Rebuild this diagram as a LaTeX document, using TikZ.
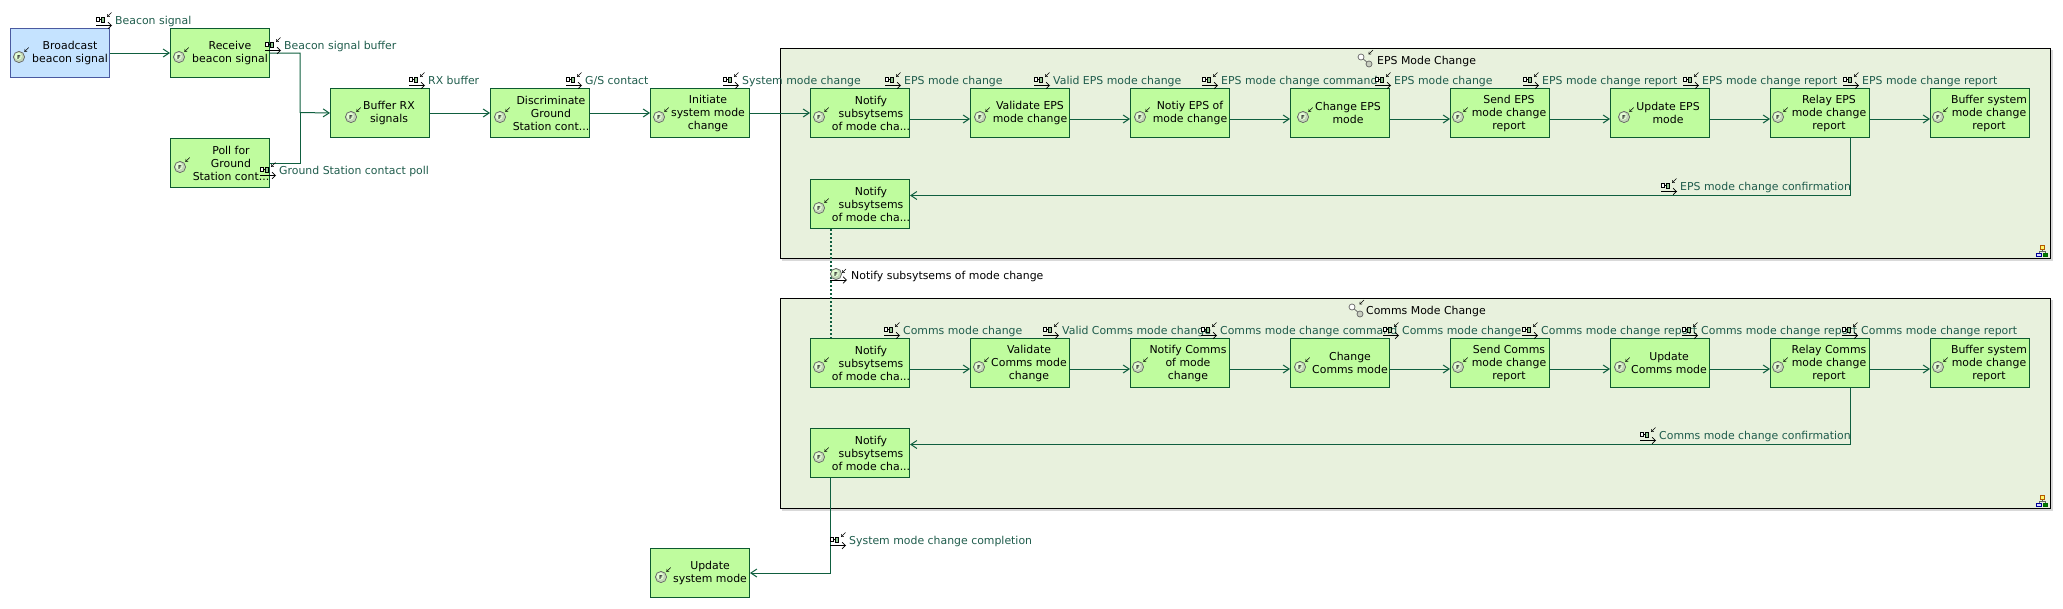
\documentclass[tikz,border=0pt]{standalone}
\usepackage{fontspec}
\setmainfont{DejaVu Sans}
\usetikzlibrary{arrows.meta}
\definecolor{fnfill}{HTML}{BFFC9E}
\definecolor{fndraw}{HTML}{0C5A30}
\definecolor{actfill}{HTML}{C5E3FF}
\definecolor{actdraw}{HTML}{4A5AA0}
\definecolor{cont}{HTML}{E8F1DD}
\definecolor{conn}{HTML}{0F5F3F}
\definecolor{lab}{HTML}{1F5C4C}
\tikzset{
  x=1pt,y=-1pt,
  fnbox/.style={draw=fndraw,fill=fnfill,line width=1pt,minimum width=99pt,minimum height=49pt,inner sep=0pt,anchor=north west},
  actbox/.style={fnbox,draw=actdraw,fill=actfill},
  boxtext/.style={font=\fontsize{10.9}{13}\selectfont,align=center,inner sep=0pt,text=black},
  flowlabel/.style={font=\fontsize{10.9}{13}\selectfont,inner sep=0pt,anchor=base west,text=lab},
  blacklabel/.style={flowlabel,text=black},
  container/.style={draw=black,fill=cont,line width=1pt,inner sep=0pt,anchor=north west,minimum width=1270pt,minimum height=210pt},
  flow/.style={draw=conn,line width=1pt,-{Straight Barb[length=6pt,width=8pt,line width=1pt]}},
  plainline/.style={draw=conn,line width=1pt},
  minitip/.style={draw=black,line width=.5pt,-{Straight Barb[length=2pt,width=3.2pt,line width=.5pt]}},
  flowicon/.style={draw=black,line width=.7pt,-{Straight Barb[length=3.5pt,width=6.5pt,line width=.7pt]}},
}
\newcommand{\fnball}[2]{%
  \begin{scope}[shift={(#1,#2)}]
  \fill[black!8!fnfill!55!gray!60!white] (0,0) circle (5.6);
  \fill[white!55!fnfill] (-.8,-.8) circle (3.6);
  \draw[black!60,line width=.7pt] (0,0) circle (5.6);
  \node[font=\bfseries\fontsize{5.5}{6}\selectfont,inner sep=0pt,text=black!80] at (0,0) {F};
  \end{scope}}
\newcommand{\fnicon}[2]{%
  \fnball{#1}{#2}
  \begin{scope}[shift={(#1,#2)}]
  \draw[minitip] (9.7,-9.5) -- (5.4,-5.2);
  \end{scope}}
% box: name, x, y, style, icon offset, text offset, text
\newcommand{\fnode}[7]{%
  \node[#4] (#1) at (#2,#3) {};
  \node[boxtext] (#1-t) at (#2+#6,#3+25) {#7};
  \fnicon{#2+#5}{#3+29}}
\newcommand{\xicon}[2]{%
  \begin{scope}[shift={(#1,#2)}]
  \draw[flowicon] (0,0) -- (16,0);
  \draw[black,line width=.6pt,fill=white] (.5,-8) rectangle (3.2,-4);
  \draw[black,line width=.6pt,fill=green!35!gray!60!white] (5,-8.5) rectangle (8.7,-3.5);
  \draw[black,line width=.6pt] (3.2,-6) -- (5,-6);
  \draw[minitip] (15.5,-13) -- (11,-8.5);
  \end{scope}}
% exchange label: name, icon x, text x, centre y, text
\newcommand{\xlabel}[5]{%
  \xicon{#2}{#4+5.5}
  \node[flowlabel] (#1) at (#3,#4+4) {#5};}
\newcommand{\titleicon}[2]{%
  \begin{scope}[shift={(#1,#2)}]
  \draw[black!60,line width=.7pt] (4,-3) -- (12,4);
  \draw[black!60,line width=.7pt,fill=white] (4,-3) circle (3);
  \draw[black!60,line width=.7pt,fill=cont!70!gray] (12,4) circle (3);
  \draw[minitip] (16,-10) -- (11.5,-5.5);
  \end{scope}}
\newcommand{\treeicon}[2]{%
  \begin{scope}[shift={(#1,#2)}]
  \draw[black!60,line width=.4pt] (0,-2) -- (0,0) (-3.2,2) -- (-3.2,0) -- (3.2,0) -- (3.2,2);
  \draw[orange!70!black,line width=.5pt,fill=yellow!60] (-2,-5.5) rectangle (2,-2);
  \draw[blue!60!black,line width=.5pt,fill=blue!15] (-5.5,2) rectangle (-1,5.5);
  \draw[green!40!black,line width=.5pt,fill=green!50!black] (1,2) rectangle (5.5,5.5);
  \end{scope}}
\begin{document}
\begin{tikzpicture}
\useasboundingbox (0,0) rectangle (2063,608);
% containers
\fill[black!15] (782,50) rectangle (2053,261);
\fill[black!15] (782,300) rectangle (2053,511);
\node[container] (eps) at (780,48) {};
\node[container] (comms) at (780,298) {};
\titleicon{1357}{60}
\node[blacklabel] (epst) at (1377,64) {EPS Mode Change};
\titleicon{1348}{310}
\node[blacklabel] (commst) at (1366,314) {Comms Mode Change};
\treeicon{2042}{251}
\treeicon{2042}{501}
% boxes
\fnode{bcast}{10}{28}{actbox}{9}{60}{Broadcast\\beacon signal}
\fnode{recv}{170}{28}{fnbox}{9}{60}{Receive\\beacon signal}
\fnode{poll}{170}{138}{fnbox}{10}{61}{Poll for\\Ground\\Station cont...}
\fnode{rx}{330}{88}{fnbox}{21}{59}{Buffer RX\\signals}
\fnode{disc}{490}{88}{fnbox}{10}{61}{Discriminate\\Ground\\Station cont...}
\fnode{init}{650}{88}{fnbox}{9}{58}{Initiate\\system mode\\change}
\fnode{ea}{810}{88}{fnbox}{9}{61}{Notify\\subsytsems\\of mode cha...}
\fnode{eb}{970}{88}{fnbox}{10}{60}{Validate EPS\\mode change}
\fnode{ec}{1130}{88}{fnbox}{10}{60}{Notiy EPS of\\mode change}
\fnode{ed}{1290}{88}{fnbox}{13}{58}{Change EPS\\mode}
\fnode{ee}{1450}{88}{fnbox}{8}{59}{Send EPS\\mode change\\report}
\fnode{ef}{1610}{88}{fnbox}{14}{58}{Update EPS\\mode}
\fnode{eg}{1770}{88}{fnbox}{8}{59}{Relay EPS\\mode change\\report}
\fnode{eh}{1930}{88}{fnbox}{8}{59}{Buffer system\\mode change\\report}
\fnode{ei}{810}{179}{fnbox}{9}{61}{Notify\\subsytsems\\of mode cha...}
\fnode{ca}{810}{338}{fnbox}{9}{61}{Notify\\subsytsems\\of mode cha...}
\fnode{cb}{970}{338}{fnbox}{9}{59}{Validate\\Comms mode\\change}
\fnode{cc}{1130}{338}{fnbox}{8}{58}{Notify Comms\\of mode\\change}
\fnode{cd}{1290}{338}{fnbox}{10}{60}{Change\\Comms mode}
\fnode{ce}{1450}{338}{fnbox}{8}{59}{Send Comms\\mode change\\report}
\fnode{cf}{1610}{338}{fnbox}{10}{59}{Update\\Comms mode}
\fnode{cg}{1770}{338}{fnbox}{8}{59}{Relay Comms\\mode change\\report}
\fnode{ch}{1930}{338}{fnbox}{8}{59}{Buffer system\\mode change\\report}
\fnode{ci}{810}{428}{fnbox}{9}{61}{Notify\\subsytsems\\of mode cha...}
\fnode{upd}{650}{548}{fnbox}{11}{60}{Update\\system mode}
% connectors
\draw[flow] (bcast.east) -- (recv.west);
\coordinate (jn) at (300,112.5);
\draw[flow] (recv.east) -| (jn) -- (rx.west);
\draw[plainline] (poll.east) -| (jn);
\draw[flow] (rx.east) -- (disc.west);
\draw[flow] (disc.east) -- (init.west);
\draw[flow] (init.east) -- (ea.west);
\foreach \a/\b in {ea/eb,eb/ec,ec/ed,ed/ee,ee/ef,ef/eg,eg/eh}
  \draw[flow] ([yshift=-6pt]\a.east) -- ([yshift=-6pt]\b.west);
\foreach \a/\b in {ca/cb,cb/cc,cc/cd,cd/ce,ce/cf,cf/cg,cg/ch}
  \draw[flow] ([yshift=-6pt]\a.east) -- ([yshift=-6pt]\b.west);
\draw[flow] ([xshift=30.5pt]eg.south) |- ([yshift=8.5pt]ei.east);
\draw[flow] ([xshift=30.5pt]cg.south) |- ([yshift=8.5pt]ci.east);
\draw[draw=conn,line width=2pt,dash pattern=on 2pt off 2pt] ([xshift=-29.5pt]ei.south) -- ([xshift=-29.5pt]ca.north);
\draw[flow] ([xshift=-29.5pt]ci.south) |- (upd.east);
% exchange labels
\xlabel{l1}{96}{115}{20}{Beacon signal}
\xlabel{l2}{265}{284}{45}{Beacon signal buffer}
\xlabel{l3}{260}{279}{170}{Ground Station contact poll}
\xlabel{l4}{409}{428}{80}{RX buffer}
\xlabel{l5}{566}{585}{80}{G/S contact}
\xlabel{l6}{723}{742}{80}{System mode change}
\xlabel{e1}{885}{904}{80}{EPS mode change}
\xlabel{e2}{1034}{1053}{80}{Valid EPS mode change}
\xlabel{e3}{1202}{1221}{80}{EPS mode change command}
\xlabel{e4}{1375}{1394}{80}{EPS mode change}
\xlabel{e5}{1523}{1542}{80}{EPS mode change report}
\xlabel{e6}{1683}{1702}{80}{EPS mode change report}
\xlabel{e7}{1843}{1862}{80}{EPS mode change report}
\xlabel{e8}{1661}{1680}{186}{EPS mode change confirmation}
\xlabel{c1}{884}{903}{330}{Comms mode change}
\xlabel{c2}{1043}{1062}{330}{Valid Comms mode change}
\xlabel{c3}{1201}{1220}{330}{Comms mode change command}
\xlabel{c4}{1383}{1402}{330}{Comms mode change}
\xlabel{c5}{1522}{1541}{330}{Comms mode change report}
\xlabel{c6}{1682}{1701}{330}{Comms mode change report}
\xlabel{c7}{1842}{1861}{330}{Comms mode change report}
\xlabel{c8}{1640}{1659}{435}{Comms mode change confirmation}
\xlabel{l7}{830}{849}{540}{System mode change completion}
% function exchange label
\draw[flowicon] (830,280) -- (847,280);
\fnball{836}{274}
\draw[minitip] (846,269) -- (842,273);
\node[blacklabel] (n1) at (851,279) {Notify subsytsems of mode change};
\end{tikzpicture}
\end{document}
